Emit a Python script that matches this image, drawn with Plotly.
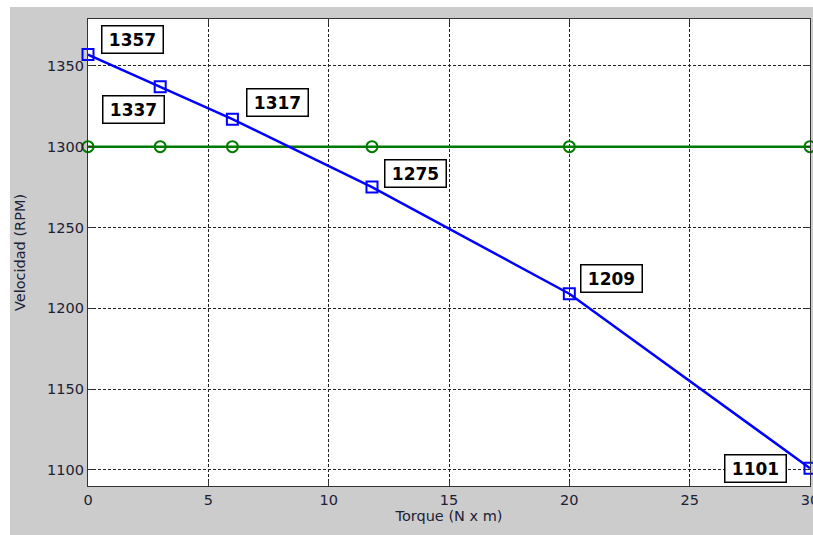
import plotly.graph_objects as go

# Motor speed vs. load torque
torque = [0, 3, 6, 11.8, 20, 30]
speed = [1357, 1337, 1317, 1275, 1209, 1101]
reference_speed = [1300, 1300, 1300, 1300, 1300, 1300]

# label offsets (pixels) for each speed value box
label_dx = [44, -27, 45, 44, 42, -55]
label_dy = [15, -23, 17, 14, 15, 0]

x_ticks = [0, 5, 10, 15, 20, 25, 30]
y_ticks = [1100, 1150, 1200, 1250, 1300, 1350]

W, H = 813, 535
ML, MR, MT, MB = 88, 3, 19, 49
pw, ph = W - ML - MR, H - MT - MB

fig = go.Figure()

fig.add_trace(go.Scatter(
    x=torque, y=reference_speed, mode="lines+markers",
    line=dict(color="#007a00", width=2.5),
    marker=dict(symbol="circle-open", size=11, color="#007a00", line=dict(width=2)),
    showlegend=False, cliponaxis=False,
))
fig.add_trace(go.Scatter(
    x=torque, y=speed, mode="lines+markers",
    line=dict(color="#0000ff", width=2.5),
    marker=dict(symbol="square-open", size=11, color="#0000ff", line=dict(width=2)),
    showlegend=False, cliponaxis=False,
))

for xv, yv, dx, dy in zip(torque, speed, label_dx, label_dy):
    fig.add_annotation(
        x=xv, y=yv, text=f"<b>{yv}</b>", showarrow=False,
        xshift=dx, yshift=dy,
        font=dict(family="DejaVu Sans", size=17, color="black"),
        bgcolor="white", bordercolor="black", borderwidth=1.5,
        borderpad=2, width=56, height=22,
    )

# white strips around the grey figure area
fig.add_shape(type="rect", xref="paper", yref="paper", layer="below",
              x0=-ML / pw - 0.01, x1=(10 - ML) / pw, y0=-MB / ph - 0.01, y1=(H - MB + 1) / ph + 0.05,
              fillcolor="white", line=dict(width=0))
fig.add_shape(type="rect", xref="paper", yref="paper", layer="below",
              x0=-ML / pw - 0.01, x1=1.02, y0=(ph + MT - 7) / ph, y1=(ph + MT) / ph + 0.01,
              fillcolor="white", line=dict(width=0))

axis_common = dict(
    showgrid=True, gridcolor="#222222", gridwidth=1, griddash="3px,2px",
    showline=True, linecolor="#333333", linewidth=1.2, mirror="ticks",
    ticks="inside", ticklen=5, tickcolor="#333333",
    tickfont=dict(family="DejaVu Sans", size=14.5, color="#202035"),
    zeroline=False, ticklabeloverflow="allow", automargin=False,
)

fig.update_xaxes(range=[0, 30], tickvals=x_ticks,
                 title=dict(text="Torque (N x m)", standoff=4,
                            font=dict(family="DejaVu Sans", size=14.5, color="#202035")),
                 **axis_common)
fig.update_yaxes(range=[1090, 1379], tickvals=y_ticks,
                 title=dict(text="Velocidad (RPM)", standoff=18,
                            font=dict(family="DejaVu Sans", size=14.5, color="#202035")),
                 **axis_common)

fig.update_layout(
    width=W, height=H,
    margin=dict(l=ML, r=MR, t=MT, b=MB, autoexpand=False),
    paper_bgcolor="#cccccc", plot_bgcolor="white",
)

fig.write_html("out.html")
